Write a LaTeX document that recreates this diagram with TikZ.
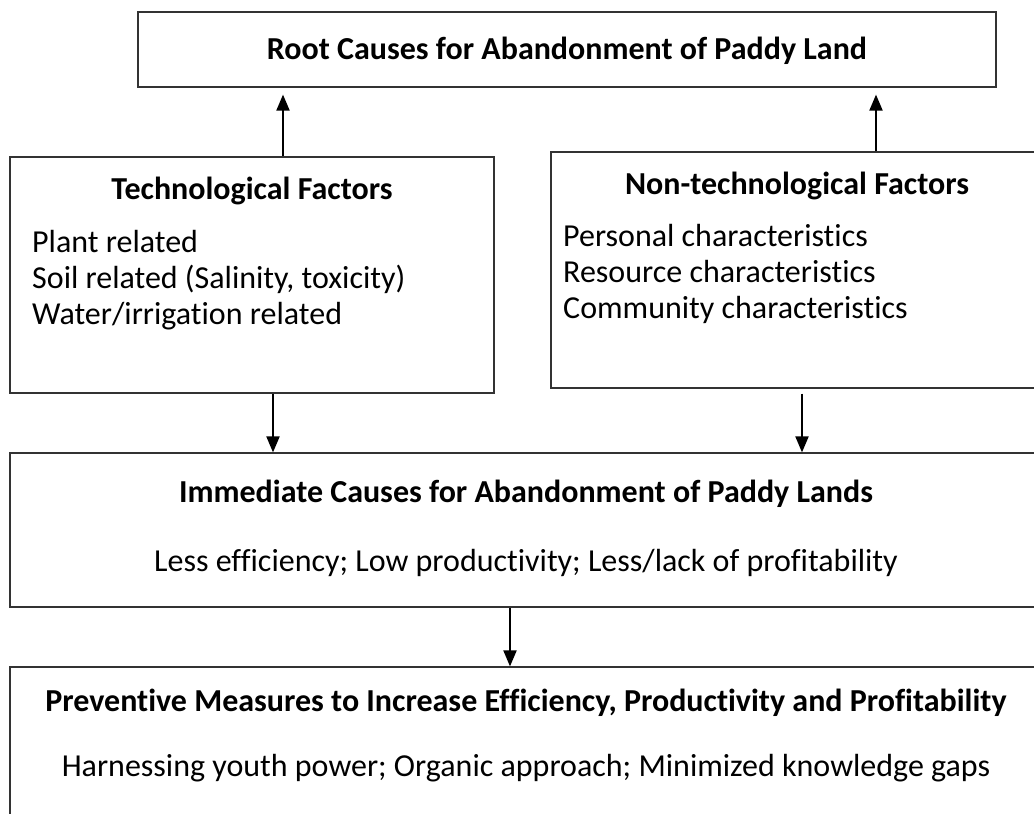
\documentclass[tikz,border=0pt]{standalone}
\usepackage{fontspec}
\setmainfont{Carlito}[Ligatures=NoCommon]
\usetikzlibrary{arrows.meta}
\tikzset{
  box/.style={draw=black!80, line width=1.2pt, rectangle, inner sep=0pt},
  head/.style={font=\bfseries\fontsize{32}{38}\selectfont, inner sep=0pt, text height=23pt, text depth=7pt},
  item/.style={font=\fontsize{32}{38}\selectfont, inner sep=0pt, text height=23pt, text depth=7pt},
  link/.style={line width=2pt, -{Triangle[length=16pt,width=13pt]}}
}
\begin{document}
\begin{tikzpicture}[x=1pt, y=-1pt]
  \clip (0,0) rectangle (1034,814);
  \fill[white] (0,0) rectangle (1034,814);
  % boxes
  \node[box, minimum width=858pt, minimum height=75pt] (root) at (567,49.5) {};
  \node[box, minimum width=484pt, minimum height=236pt] (tech) at (252,275) {};
  \node[box, minimum width=492pt, minimum height=236pt] (nontech) at (797,270) {};
  \node[box, minimum width=1033pt, minimum height=154pt] (immed) at (526.5,530) {};
  \node[box, minimum width=1033pt, minimum height=173pt] (prevent) at (526.5,753.5) {};
  % titles
  \node[head] (roottitle) at (567,51) {Root Causes for Abandonment of Paddy Land};
  \node[head] (techtitle) at (252,191) {Technological Factors};
  \node[head] (nontechtitle) at (797,186) {Non-technological Factors};
  \node[head] (immedtitle) at (526,494) {Immediate Causes for Abandonment of Paddy Lands};
  \node[head] (preventtitle) at (526,703) {Preventive Measures to Increase Efficiency, Productivity and Profitability};
  % items
  \node[item, anchor=west] (plant) at (32,244) {Plant related};
  \node[item, anchor=west] (soil) at (32,280) {Soil related (Salinity, toxicity)};
  \node[item, anchor=west] (water) at (32,316) {Water/irrigation related};
  \node[item, anchor=west] (personal) at (563,238) {Personal characteristics};
  \node[item, anchor=west] (resource) at (563,274) {Resource characteristics};
  \node[item, anchor=west] (community) at (563,310) {Community characteristics};
  \node[item] (immedtext) at (526,563) {Less efficiency; Low productivity; Less/lack of profitability};
  \node[item] (preventtext) at (526,768) {Harnessing youth power; Organic approach; Minimized knowledge gaps};
  % connectors
  \draw[link, shorten >=7pt] ([xshift=31pt]tech.north) -- ([xshift=31pt]tech.north |- root.south);
  \draw[link, shorten >=7pt] ([xshift=79pt]nontech.north) -- ([xshift=79pt]nontech.north |- root.south);
  \draw[link] ([xshift=21pt]tech.south) -- ([xshift=21pt]tech.south |- immed.north);
  \draw[link] ([xshift=5pt,yshift=-5pt]nontech.south) -- ([xshift=5pt]nontech.south |- immed.north);
  \draw[link] ([xshift=-16.5pt]immed.south) -- ([xshift=-16.5pt]immed.south |- prevent.north);
\end{tikzpicture}
\end{document}
